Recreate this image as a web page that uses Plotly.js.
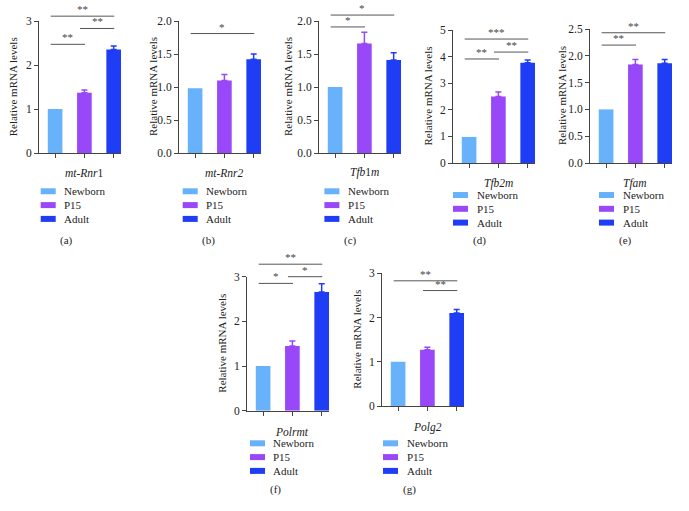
<!DOCTYPE html>
<html><head><meta charset="utf-8">
<script src="https://cdn.plot.ly/plotly-3.0.1.min.js"></script>
<style>html,body{margin:0;padding:0;background:#fff}#chart{width:689px;height:511px}</style>
</head><body><div id="chart"></div>
<script>
// ---------- data ----------
const groups = ['Newborn', 'P15', 'Adult'];
const groupColors = ['#68B1FB', '#9848F8', '#1F3DF4'];
const genes = ['<i>mt-Rnr</i>1', '<i>mt-Rnr2</i>', '<i>Tfb</i>1<i>m</i>', '<i>Tfb2m</i>', '<i>Tfam</i>', '<i>Polrmt</i>', '<i>Polg2</i>'];
const panelLabels = ['(a)', '(b)', '(c)', '(d)', '(e)', '(f)', '(g)'];
const yTitle = 'Relative mRNA levels';

const valsA = [1.00, 1.37, 2.35], errsA = [0, 0.06, 0.08];
const valsB = [0.98, 1.10, 1.42], errsB = [0, 0.09, 0.08];
const valsC = [1.00, 1.66, 1.41], errsC = [0, 0.17, 0.11];
const valsD = [0.98, 2.50, 3.77], errsD = [0, 0.17, 0.10];
const valsE = [1.00, 1.84, 1.86], errsE = [0, 0.09, 0.07];
const valsF = [1.00, 1.45, 2.66], errsF = [0, 0.11, 0.18];
const valsG = [1.00, 1.27, 2.10], errsG = [0, 0.06, 0.08];

// significance brackets: [from group, to group, bracket height, label]
const sigA = [[0, 1, 2.47, '**'], [1, 2, 2.83, '**'], [0, 2, 3.11, '**']];
const sigB = [[0, 2, 1.81, '*']];
const sigC = [[0, 1, 1.91, '*'], [0, 2, 2.09, '*']];
const sigD = [[0, 1, 3.91, '**'], [1, 2, 4.17, '**'], [0, 2, 4.66, '***']];
const sigE = [[0, 1, 2.20, '**'], [0, 2, 2.43, '**']];
const sigF = [[0, 1, 2.85, '*'], [1, 2, 3.00, '*'], [0, 2, 3.28, '**']];
const sigG = [[1, 2, 2.61, '**'], [0, 2, 2.83, '**']];

const allVals = [valsA, valsB, valsC, valsD, valsE, valsF, valsG];
const allErrs = [errsA, errsB, errsC, errsD, errsE, errsF, errsG];
const allSig = [sigA, sigB, sigC, sigD, sigE, sigF, sigG];

// ---------- layout geometry (pixels) ----------
const W = 689, H = 511;
const FONT = 'Liberation Serif';
const XR = [-0.55, 2.25], PW = 82;
const frames = [
  {xl: 39,  top: 21,    bot: 153,   ymax: 3,   dtick: 1,   fmt: ''},
  {xl: 179, top: 21,    bot: 153,   ymax: 2,   dtick: 0.5, fmt: '.1f'},
  {xl: 319, top: 21,    bot: 153,   ymax: 2,   dtick: 0.5, fmt: '.1f'},
  {xl: 453, top: 30,    bot: 163,   ymax: 5,   dtick: 1,   fmt: ''},
  {xl: 590, top: 29,    bot: 163,   ymax: 2.5, dtick: 0.5, fmt: '.1f'},
  {xl: 247, top: 276.7, bot: 410.7, ymax: 3,   dtick: 1,   fmt: ''},
  {xl: 382, top: 273.3, bot: 406,   ymax: 3,   dtick: 1,   fmt: ''}
];
const yTitleX = [13.3, 153, 288, 428, 562, 222, 357];
const xTitleY = [173, 173, 173, 183, 183, 431.7, 427.3];
const legendPos = [
  {sx: 40.7, ry: 191.3, tx: 62,    ly: 241},
  {sx: 182.7, ry: 191.3, tx: 204.4, ly: 241},
  {sx: 324.4, ry: 191.3, tx: 346,  ly: 241},
  {sx: 453,  ry: 195,   tx: 475,   ly: 241},
  {sx: 599,  ry: 195,   tx: 621,   ly: 241},
  {sx: 250,  ry: 443.3, tx: 271,   ly: 489},
  {sx: 383,  ry: 443.3, tx: 405,   ly: 489}
];
const ROW = 13.8;

const px2x = v => v / W;
const px2y = v => 1 - v / H;
function dataX(p, x) { const f = frames[p]; return (f.xl + (x - XR[0]) / (XR[1] - XR[0]) * PW) / W; }
function dataYpx(p, y) { const f = frames[p]; return f.bot - y / f.ymax * (f.bot - f.top); }

const traces = [], shapes = [], annotations = [];
const layout = {
  width: W, height: H, margin: {l: 0, r: 0, t: 0, b: 0},
  paper_bgcolor: '#fff', plot_bgcolor: 'rgba(0,0,0,0)',
  showlegend: false, barmode: 'overlay',
  font: {family: FONT, size: 11, color: '#222'}
};

frames.forEach((f, p) => {
  const s = p === 0 ? '' : String(p + 1);
  groups.forEach((g, gi) => {
    const e = allErrs[p][gi];
    traces.push({
      type: 'bar', x: [gi], y: [allVals[p][gi]], width: 0.5, name: g,
      marker: {color: groupColors[gi], line: {width: 0}},
      error_y: {type: 'data', array: [e], arrayminus: [0], symmetric: false, visible: e > 0,
                color: groupColors[gi], thickness: 1.5, width: 3},
      xaxis: 'x' + s, yaxis: 'y' + s, hoverinfo: 'skip'
    });
  });
  layout['xaxis' + s] = {
    domain: [px2x(f.xl), px2x(f.xl + PW)], range: XR, anchor: 'y' + s,
    showline: true, linecolor: '#444', linewidth: 1, ticks: 'outside', ticklen: 4,
    tickcolor: '#444', tickwidth: 1, tickmode: 'array', tickvals: [0, 1, 2],
    showticklabels: false, showgrid: false, zeroline: false, fixedrange: true
  };
  layout['yaxis' + s] = {
    domain: [px2y(f.bot), px2y(f.top)], range: [0, f.ymax], anchor: 'x' + s,
    showline: true, linecolor: '#444', linewidth: 1, ticks: 'outside', ticklen: 4,
    tickcolor: '#444', tickwidth: 1, tick0: 0, dtick: f.dtick, tickformat: f.fmt,
    tickfont: {family: FONT, size: 11.5, color: '#222'},
    showgrid: false, zeroline: false, fixedrange: true
  };
  // axis titles
  annotations.push({xref: 'paper', yref: 'paper', x: px2x(yTitleX[p]), y: px2y((f.top + f.bot) / 2),
    text: yTitle, textangle: -90, showarrow: false, xanchor: 'center', yanchor: 'middle',
    font: {family: FONT, size: 11, color: '#222'}});
  annotations.push({xref: 'paper', yref: 'paper', x: dataX(p, 1), y: px2y(xTitleY[p]),
    text: genes[p], showarrow: false, xanchor: 'center', yanchor: 'middle',
    font: {family: FONT, size: 11.5, color: '#222'}});
  // significance brackets
  allSig[p].forEach(([i, j, yv, lab]) => {
    const ypx = dataYpx(p, yv);
    shapes.push({type: 'line', xref: 'paper', yref: 'paper',
      x0: dataX(p, i - 0.15), x1: dataX(p, j + 0.02), y0: px2y(ypx), y1: px2y(ypx),
      line: {color: '#555', width: 1}});
    annotations.push({xref: 'paper', yref: 'paper', x: (dataX(p, i - 0.15) + dataX(p, j + 0.02)) / 2,
      y: px2y(ypx - 7), text: lab, showarrow: false, xanchor: 'center', yanchor: 'middle',
      font: {family: FONT, size: 11, color: '#444'}});
  });
  // legend
  const L = legendPos[p];
  groups.forEach((g, gi) => {
    const cy = L.ry + gi * ROW;
    shapes.push({type: 'rect', xref: 'paper', yref: 'paper',
      x0: px2x(L.sx), x1: px2x(L.sx + 15), y0: px2y(cy - 3), y1: px2y(cy + 3),
      fillcolor: groupColors[gi], line: {width: 0}});
    annotations.push({xref: 'paper', yref: 'paper', x: px2x(L.tx), y: px2y(cy),
      text: g, showarrow: false, xanchor: 'left', yanchor: 'middle',
      font: {family: FONT, size: 11, color: '#222'}});
  });
  annotations.push({xref: 'paper', yref: 'paper', x: px2x(L.tx + 4), y: px2y(L.ly),
    text: panelLabels[p], showarrow: false, xanchor: 'center', yanchor: 'middle',
    font: {family: FONT, size: 11, color: '#222'}});
});

layout.shapes = shapes;
layout.annotations = annotations;
Plotly.newPlot('chart', traces, layout, {staticPlot: true, displayModeBar: false});
</script></body></html>
